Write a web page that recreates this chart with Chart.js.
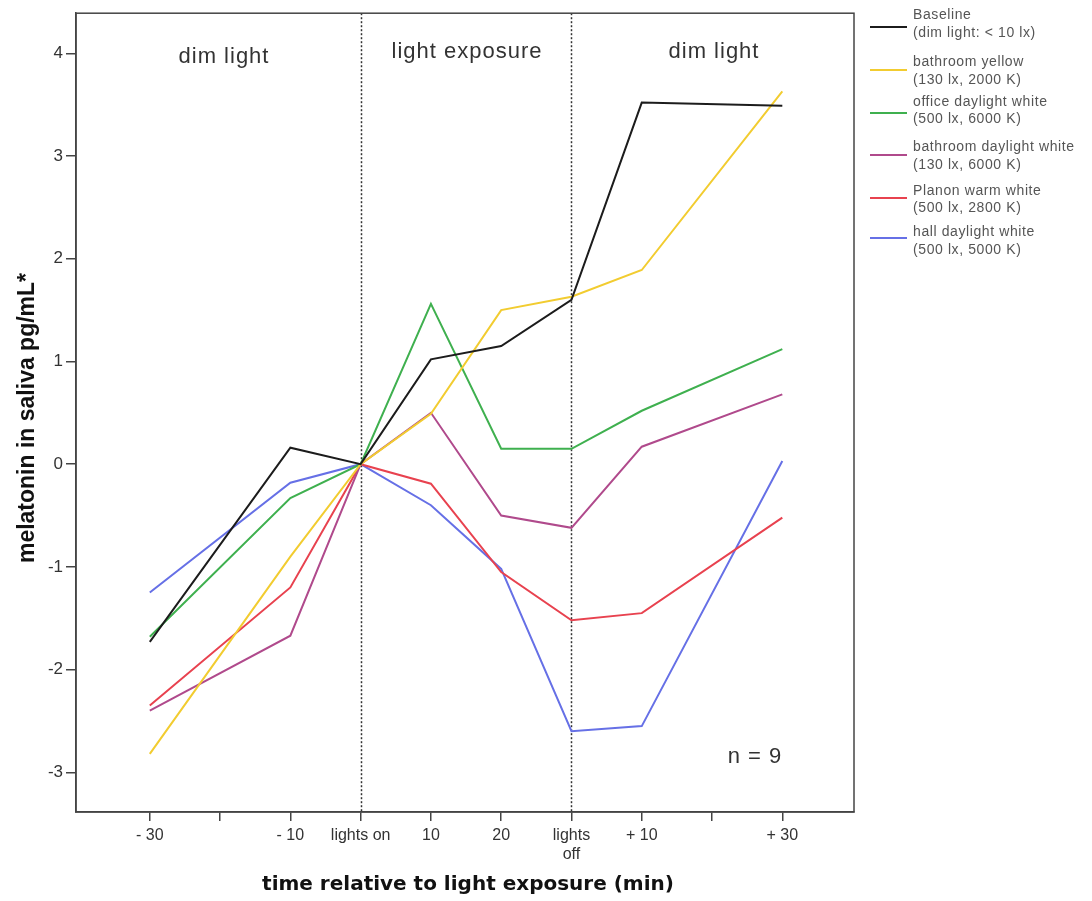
<!DOCTYPE html>
<html>
<head>
<meta charset="utf-8">
<script src="https://cdn.jsdelivr.net/npm/chart.js@4"></script>
<style>
  body { margin: 0; background: #fff; }
  #wrap { position: relative; width: 1092px; height: 901px; }
</style>
</head>
<body>
<div id="wrap"><canvas id="chart" width="1092" height="901"></canvas></div>
<script>
// x positions are indices 0..9 (-30 .. +30 min); null = no measurement there
const tickLabels = ['- 30', '', '- 10', 'lights on', '10', '20', ['lights', 'off'], '+ 10', '', '+ 30'];
const yTicks = [-3, -2, -1, 0, 1, 2, 3, 4];

const baseline     = [-1.73, null, 0.16, 0, 1.02, 1.15, 1.60, 3.52, null, 3.49];
const bathYellow   = [-2.82, null, -0.90, 0, 0.49, 1.50, 1.63, 1.89, null, 3.63];
const officeWhite  = [-1.68, null, -0.33, 0, 1.56, 0.15, 0.15, 0.52, null, 1.12];
const bathDaylight = [-2.40, null, -1.67, 0, 0.50, -0.50, -0.62, 0.17, null, 0.68];
const planonWarm   = [-2.35, null, -1.20, 0, -0.19, -1.05, -1.52, -1.45, null, -0.52];
const hallDaylight = [-1.25, null, -0.18, 0, -0.40, -1.02, -2.60, -2.55, null, 0.03];

const seriesNames = [
  ['Baseline', '(dim light: < 10 lx)'],
  ['bathroom yellow', '(130 lx, 2000 K)'],
  ['office daylight white', '(500 lx, 6000 K)'],
  ['bathroom daylight white', '(130 lx, 6000 K)'],
  ['Planon warm white', '(500 lx, 2800 K)'],
  ['hall daylight white', '(500 lx, 5000 K)']
];
const seriesColors = ['#1c1c1c', '#f2cc30', '#3fb04f', '#b04a8c', '#e8424f', '#6670e6'];
const allSeries = [baseline, bathYellow, officeWhite, bathDaylight, planonWarm, hallDaylight];

const toPoints = arr => arr.map((v, i) => ({ x: i, y: v })).filter(p => p.y !== null);

const FONT = '"Liberation Sans", Arial, sans-serif';

const extras = {
  id: 'extras',
  beforeDatasetsDraw(chart) {
    const { ctx, chartArea: a, scales: { x } } = chart;
    ctx.save();
    // dotted lines at lights on / lights off
    ctx.strokeStyle = '#333';
    ctx.lineWidth = 1.5;
    ctx.setLineDash([2, 2]);
    [3, 6].forEach(i => {
      const px = Math.round(x.getPixelForValue(i)) + 0.5;
      ctx.beginPath();
      ctx.moveTo(px, a.top);
      ctx.lineTo(px, a.bottom);
      ctx.stroke();
    });
    ctx.restore();
  },
  afterDraw(chart) {
    const { ctx, chartArea: a } = chart;
    ctx.save();
    // frame
    ctx.strokeStyle = '#444';
    ctx.lineWidth = 1.5;
    ctx.strokeRect(a.left, a.top, a.right - a.left, a.bottom - a.top);

    // phase labels
    ctx.fillStyle = '#333';
    ctx.font = '22px ' + FONT;
    ctx.letterSpacing = '1px';
    ctx.textAlign = 'center';
    ctx.textBaseline = 'middle';
    ctx.fillText('dim light', 224, 57);
    ctx.fillText('light exposure', 467, 52);
    ctx.fillText('dim light', 714, 52);
    ctx.fillText('n = 9', 755, 757);
    ctx.letterSpacing = '0px';

    // axis titles
    ctx.fillStyle = '#111';
    ctx.font = 'bold 20px "DejaVu Sans", sans-serif';
    ctx.fillText('time relative to light exposure (min)', 468, 885);
    ctx.save();
    ctx.translate(28, 418);
    ctx.rotate(-Math.PI / 2);
    ctx.font = 'bold 23px ' + FONT;
    ctx.fillText('melatonin in saliva pg/mL*', 0, 0);
    ctx.restore();

    // legend
    ctx.font = '14px ' + FONT;
    ctx.letterSpacing = '0.6px';
    ctx.textAlign = 'left';
    ctx.textBaseline = 'middle';
    const rows = [[15, 33], [62, 80], [102, 119], [147, 165], [191, 208], [232, 250]];
    const lineY = [27, 70, 113, 155, 198, 238];
    rows.forEach((r, i) => {
      ctx.strokeStyle = seriesColors[i];
      ctx.lineWidth = 2;
      ctx.beginPath();
      ctx.moveTo(870, lineY[i]);
      ctx.lineTo(907, lineY[i]);
      ctx.stroke();
      ctx.fillStyle = '#555';
      ctx.fillText(seriesNames[i][0], 913, r[0]);
      ctx.fillText(seriesNames[i][1], 913, r[1]);
    });
    ctx.restore();
  }
};

new Chart(document.getElementById('chart'), {
  type: 'line',
  data: {
    datasets: allSeries.map((s, i) => ({
      label: seriesNames[i][0],
      data: toPoints(s),
      borderColor: seriesColors[i],
      borderWidth: 2,
      pointRadius: 0,
      tension: 0,
      fill: false
    }))
  },
  options: {
    responsive: false,
    animation: false,
    devicePixelRatio: 1,
    layout: { padding: { top: 6, right: 238, left: 0, bottom: 0 } },
    plugins: { legend: { display: false }, tooltip: { enabled: false } },
    scales: {
      x: {
        type: 'linear',
        min: -1.05,
        max: 10.02,
        afterBuildTicks(scale) {
          scale.ticks = tickLabels.map((_, i) => ({ value: i }));
        },
        afterFit(scale) { scale.height = 89; },
        grid: { drawOnChartArea: false, drawTicks: true, tickLength: 9, color: '#444', lineWidth: 1.5 },
        border: { color: '#444', width: 1.5 },
        ticks: {
          autoSkip: false,
          maxRotation: 0,
          color: '#333',
          font: { family: FONT, size: 16 },
          padding: 5,
          callback: v => tickLabels[v]
        }
      },
      y: {
        min: -3.386,
        max: 4.39,
        afterBuildTicks(scale) {
          scale.ticks = yTicks.map(v => ({ value: v }));
        },
        afterFit(scale) { scale.width = 76; },
        grid: { drawOnChartArea: false, drawTicks: true, tickLength: 10, color: '#444', lineWidth: 1.5 },
        border: { color: '#444', width: 1.5 },
        ticks: {
          color: '#333',
          font: { family: FONT, size: 17 },
          padding: 3,
          callback: v => String(v)
        }
      }
    }
  },
  plugins: [extras]
});
</script>
</body>
</html>
